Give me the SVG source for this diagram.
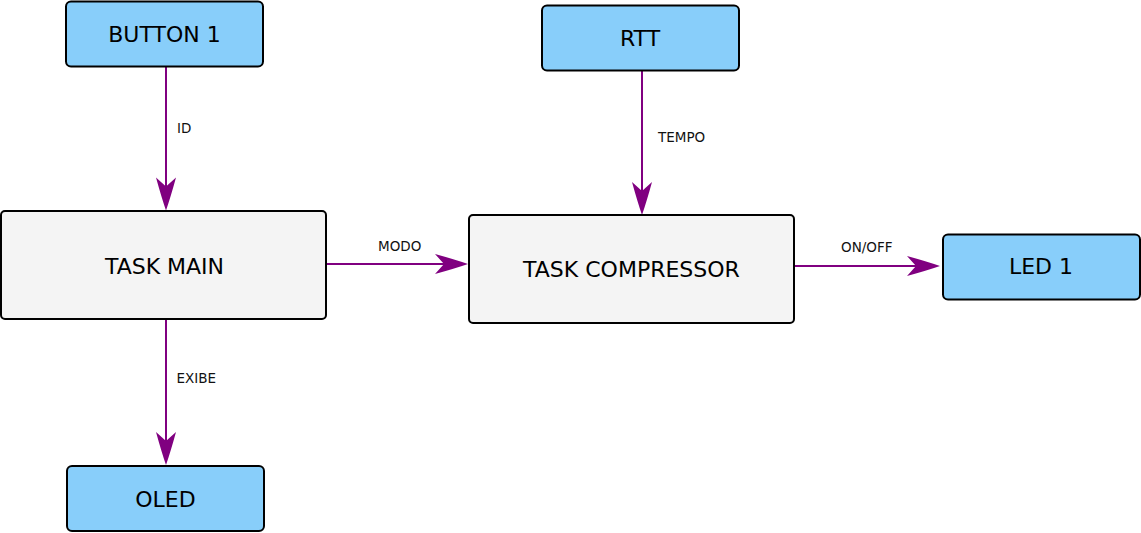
<svg xmlns="http://www.w3.org/2000/svg" width="1141" height="533" viewBox="0 0 1141 533">
<style>
.io{fill:#88cefa;stroke:#000;stroke-width:2}
.task{fill:#f4f4f4;stroke:#000;stroke-width:2}
.big{font-family:"DejaVu Sans",sans-serif;font-size:22px;fill:#000;text-anchor:middle}
.lbl{font-family:"DejaVu Sans",sans-serif;font-size:13.5px;fill:#111}
.edge{stroke:#800080;stroke-width:2;fill:none}
.head{fill:#800080}
</style>
<defs>
<marker id="arr" markerUnits="userSpaceOnUse" markerWidth="40" markerHeight="24" viewBox="-36 -12 40 24" refX="-20" refY="0" orient="auto" overflow="visible">
<path class="head" d="M0,0 Q-13,-4.5 -33,-10 L-24,0 L-33,10 Q-13,4.5 0,0 Z"/>
</marker>
</defs>
<rect width="1141" height="533" fill="#fff"/>
<g id="connectors">
<line class="edge" x1="166" y1="67" x2="166" y2="190.5" marker-end="url(#arr)"/>
<line class="edge" x1="642" y1="71" x2="642" y2="195" marker-end="url(#arr)"/>
<line class="edge" x1="326" y1="264" x2="448" y2="264" marker-end="url(#arr)"/>
<line class="edge" x1="794" y1="266" x2="920" y2="266" marker-end="url(#arr)"/>
<line class="edge" x1="166" y1="319" x2="166" y2="445" marker-end="url(#arr)"/>
<text class="lbl" x="177" y="133">ID</text>
<text class="lbl" x="658" y="141.5">TEMPO</text>
<text class="lbl" x="378" y="250.5">MODO</text>
<text class="lbl" x="841" y="252.3">ON/OFF</text>
<text class="lbl" x="176.5" y="382.5">EXIBE</text>
</g>
<g id="button1">
<rect class="io" x="66" y="1.5" width="197" height="65" rx="5"/>
<text class="big" x="164.5" y="42">BUTTON 1</text>
</g>
<g id="rtt">
<rect class="io" x="542" y="5.5" width="197" height="65" rx="5"/>
<text class="big" x="640" y="46">RTT</text>
</g>
<g id="taskmain">
<rect class="task" x="1" y="211" width="325" height="108" rx="4"/>
<text class="big" x="164.5" y="274">TASK MAIN</text>
</g>
<g id="taskcompressor">
<rect class="task" x="469" y="215" width="325" height="108" rx="4"/>
<text class="big" x="631.5" y="277.3">TASK COMPRESSOR</text>
</g>
<g id="led1">
<rect class="io" x="943" y="234.5" width="197" height="65" rx="5"/>
<text class="big" x="1041" y="274.3">LED 1</text>
</g>
<g id="oled">
<rect class="io" x="67" y="466" width="197" height="65" rx="5"/>
<text class="big" x="165.5" y="507">OLED</text>
</g>
</svg>
